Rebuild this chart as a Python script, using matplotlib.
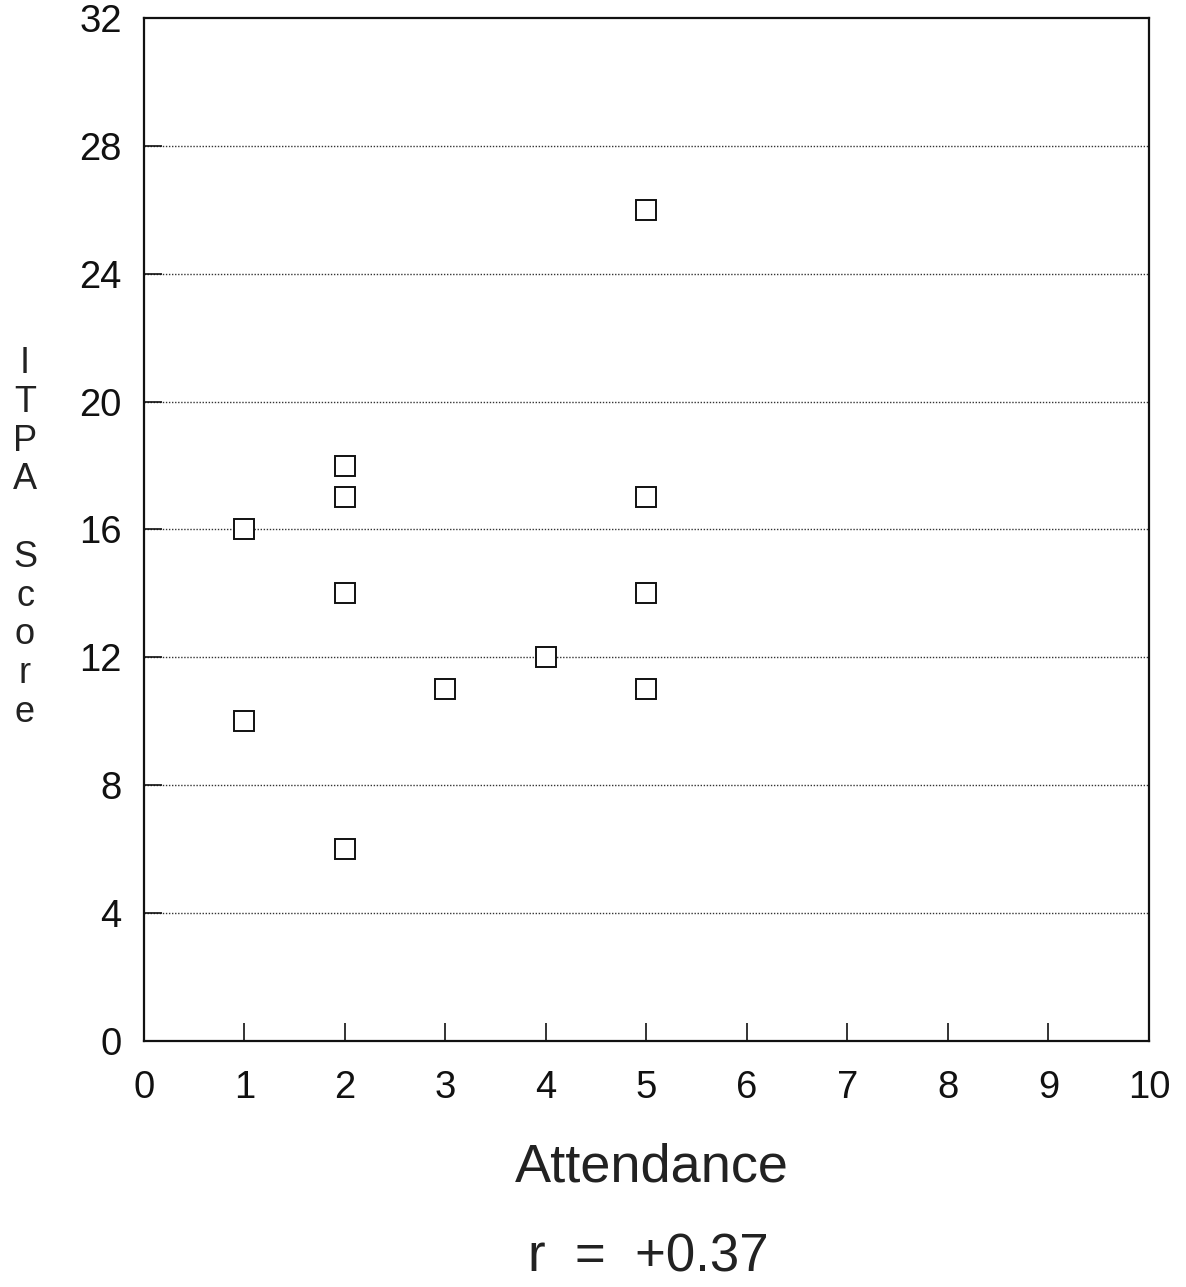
import matplotlib
matplotlib.use("Agg")
import matplotlib.pyplot as plt

plt.rcParams['font.family'] = ['Liberation Sans', 'DejaVu Sans']

attendance = [1, 1, 2, 2, 2, 2, 3, 4, 5, 5, 5, 5]
itpa_score = [16, 10, 18, 17, 14, 6, 11, 12, 26, 17, 14, 11]
x_ticks = list(range(0, 11))
y_ticks = list(range(0, 33, 4))
ylabel_letters = ['I', 'T', 'P', 'A', '', 'S', 'c', 'o', 'r', 'e']

fig = plt.figure(figsize=(11.86, 12.87), dpi=100)
ax = fig.add_axes([0.1214, 0.1911, 0.8474, 0.795])

for y in y_ticks[1:-1]:
    ax.axhline(y, color='#333333', lw=1.0, ls=(0, (1, 1.2)), zorder=1)

ax.plot(attendance, itpa_score, ls='none', marker='s', ms=15,
        mfc='white', mec='#111111', mew=1.4, zorder=3)

ax.set_xlim(0, 10)
ax.set_ylim(0, 32)
ax.set_xticks(x_ticks)
ax.set_yticks(y_ticks)
ax.tick_params(axis='both', direction='in', length=13, width=1.2,
               labelsize=27.5, colors='#111111')
ax.tick_params(axis='x', pad=21)
ax.tick_params(axis='y', pad=16)
for s in ax.spines.values():
    s.set_linewidth(1.6)
    s.set_color('#111111')

fig.text(0.55, 1 - 1168 / 1287, 'Attendance', ha='center', va='center',
         fontsize=39, color='#222222')
fig.text(0.547, 1 - 1258 / 1287, 'r  =  +0.37', ha='center', va='center',
         fontsize=38, color='#222222')
fig.text(25 / 1186, 1 - 538 / 1287, '\n'.join(ylabel_letters), ha='center',
         va='center', fontsize=26, linespacing=1.14, color='#222222')

fig.savefig('out.png', dpi=100, facecolor='white')
